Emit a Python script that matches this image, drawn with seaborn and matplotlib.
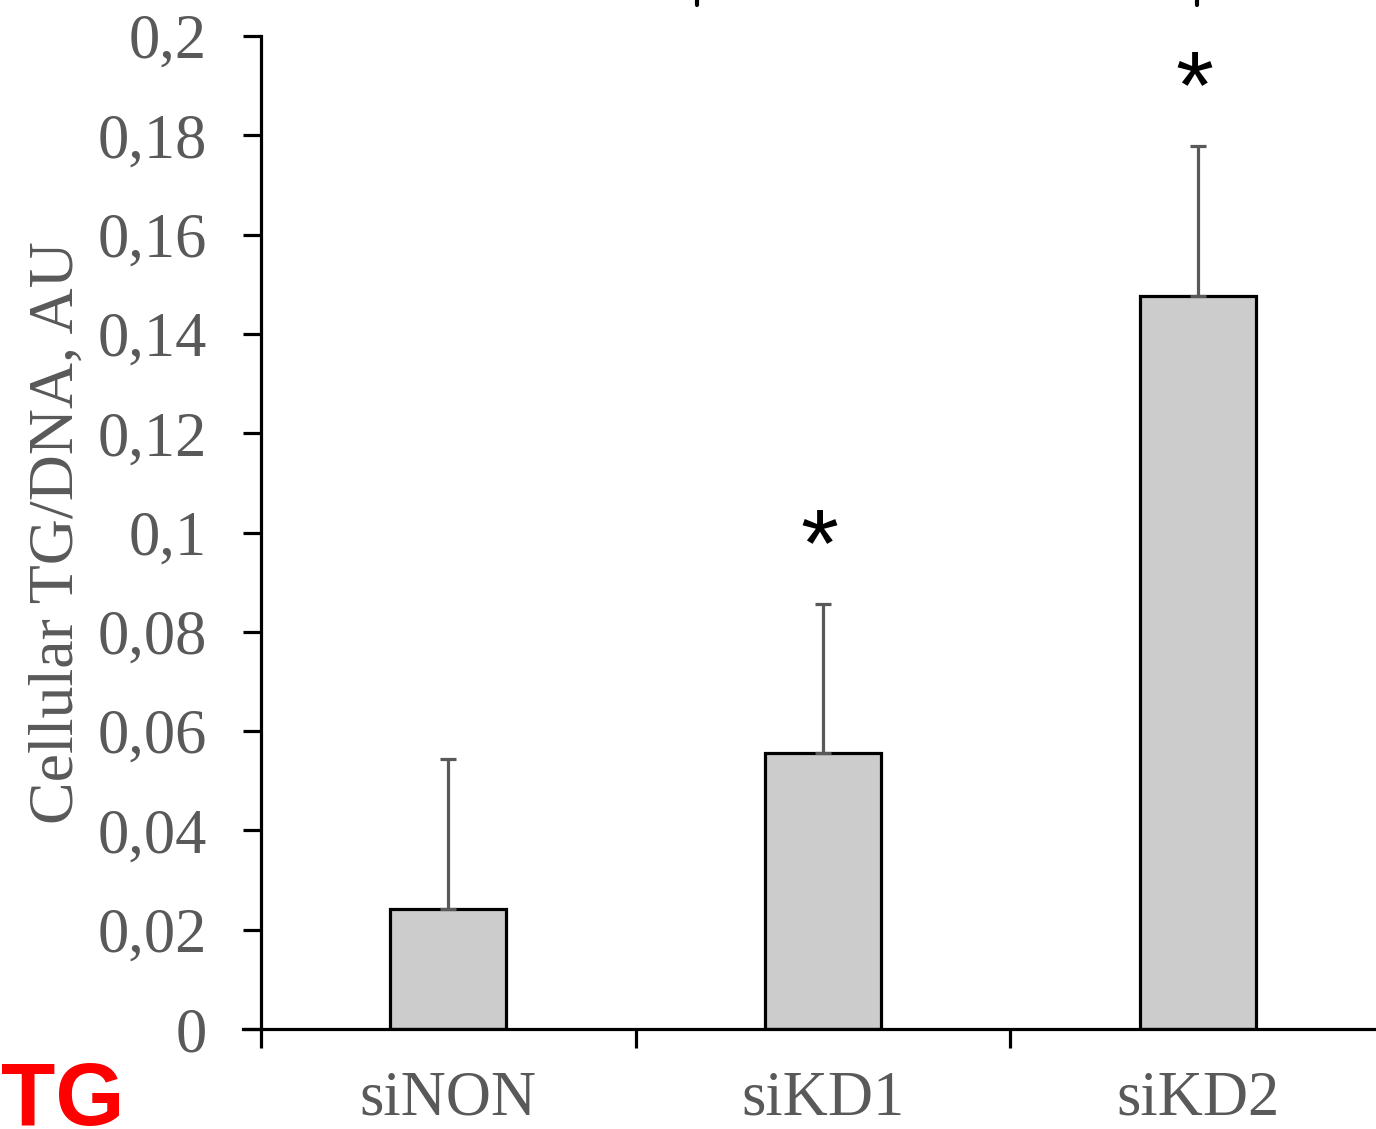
import matplotlib
matplotlib.use("Agg")
import matplotlib.pyplot as plt
import seaborn as sns
import pandas as pd
from matplotlib.lines import Line2D
from matplotlib.ticker import FixedLocator, FuncFormatter

categories = ["siNON", "siKD1", "siKD2"]
means = [0.0242, 0.0556, 0.1476]
errors = [0.0301, 0.0300, 0.0302]
stars = ["", "*", "*"]
yticks = [0, 0.02, 0.04, 0.06, 0.08, 0.1, 0.12, 0.14, 0.16, 0.18, 0.2]

sns.set_theme(style="white")
plt.rcParams["font.family"] = ["Liberation Serif", "DejaVu Serif"]

df = pd.DataFrame({"group": categories, "value": means})

fig = plt.figure(figsize=(13.76, 11.29), dpi=100)
ax = fig.add_axes([261 / 1376, 1 - 1029 / 1129, (1385 - 261) / 1376, (1029 - 36) / 1129])

sns.barplot(data=df, x="group", y="value", ax=ax, color="#CCCCCC",
            edgecolor="black", linewidth=2.3, width=0.31, errorbar=None,
            saturation=1)
ax.errorbar(range(len(categories)), means,
            yerr=[[0] * len(means), errors], fmt="none",
            ecolor="#595959", elinewidth=2.3, capsize=6, capthick=2.3, zorder=1)

for i, s in enumerate(stars):
    if s:
        ax.annotate(s, xy=(i - 0.01, means[i] + errors[i]), xytext=(0, 20),
                    textcoords="offset points", ha="center", va="baseline",
                    fontsize=70, family=["Liberation Sans", "DejaVu Sans"],
                    color="black")

ax.set_xlim(-0.5, 2.5)
ax.set_ylim(0, 0.2)
ax.yaxis.set_major_locator(FixedLocator(yticks))
ax.yaxis.set_major_formatter(FuncFormatter(lambda v, p: ("%g" % round(v, 2)).replace(".", ",")))

ax.set_xticks([-0.5, 0.5, 1.5, 2.5])
ax.set_xticklabels([])
ax.set_xticks([0, 1, 2], minor=True)
ax.set_xticklabels(categories, minor=True)
ax.tick_params(axis="x", which="major", direction="out", length=14, width=2.3,
               color="black", bottom=True)
ax.tick_params(axis="x", which="minor", length=0, pad=30, labelsize=45,
               labelcolor="#595959")
ax.tick_params(axis="y", direction="out", length=13, width=2.3, color="black",
               left=True, labelsize=45, labelcolor="#595959", pad=26)

for side in ["top", "right"]:
    ax.spines[side].set_visible(False)
for side in ["left", "bottom"]:
    ax.spines[side].set_color("black")
    ax.spines[side].set_linewidth(2.3)
ax.spines["bottom"].set_bounds(-0.5 - 18 / 374.5, 2.5)

ax.set_xlabel("")
ax.set_ylabel("Cellular TG/DNA, AU", fontsize=46, color="#595959", labelpad=8)

fig.text(0.001, 1 - 1125 / 1129, "TG", color="red", fontsize=64, fontweight="bold",
         family=["Liberation Sans", "DejaVu Sans"], ha="left", va="baseline")

for xp in [697, 1197]:
    fig.add_artist(Line2D([xp / 1376, xp / 1376], [1, 1 - 5 / 1129],
                          color="black", linewidth=3, transform=fig.transFigure))

fig.savefig("out.png", dpi=100)
